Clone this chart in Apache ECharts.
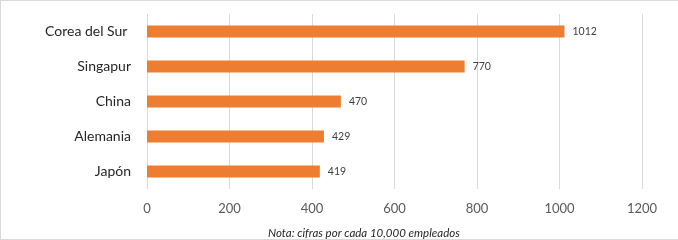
<!DOCTYPE html>
<html><head><meta charset="utf-8">
<script src="https://cdn.jsdelivr.net/npm/echarts@6/dist/echarts.min.js"></script>
<style>
html,body{margin:0;padding:0;background:#fff;}
#c{position:absolute;left:0;top:0;width:677px;height:238px;border-left:1px solid #d9d9d9;border-top:1px solid #d9d9d9;border-bottom:1px solid #d9d9d9;}
</style></head><body>
<div id="c"></div>
<script>
const categories = ['Japón', 'Alemania', 'China', 'Singapur', 'Corea del Sur '];
const values = [419, 429, 470, 770, 1012];
const xTicks = [0, 200, 400, 600, 800, 1000, 1200];
const note = 'Nota: cifras por cada 10,000 empleados';

const chart = echarts.init(document.getElementById('c'));
chart.setOption({
  animation: false,
  grid: { left: 146, right: 36, top: 13, bottom: 50, containLabel: false },
  title: {
    text: note, left: 262, top: 221,
    textStyle: { fontFamily: 'Lato', fontSize: 11.5, fontStyle: 'italic', fontWeight: 'normal', color: '#262626' }
  },
  xAxis: {
    type: 'value', min: 0, max: 1200, interval: 200,
    axisLine: { show: false }, axisTick: { show: false },
    splitLine: { lineStyle: { color: '#d9d9d9', width: 1 } },
    axisLabel: { color: '#595959', fontFamily: 'Lato', fontSize: 13, margin: 13,
      formatter: v => xTicks.includes(v) ? String(v) : '' }
  },
  yAxis: {
    type: 'category', data: categories,
    axisLine: { show: false }, axisTick: { show: false },
    axisLabel: { color: '#262626', fontFamily: 'Lato', fontSize: 14, margin: 16 }
  },
  series: [{
    type: 'bar', data: values, barWidth: 12,
    itemStyle: { color: '#ED7D31' },
    label: { show: true, position: 'right', distance: 8, color: '#404040', fontFamily: 'Lato', fontSize: 10.5 }
  }]
});
</script></body></html>
